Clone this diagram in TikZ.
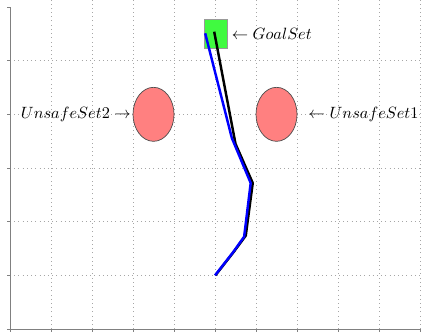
\documentclass[tikz,border=0pt]{standalone}
\usepackage{amsmath}
\usepackage{amssymb}
\usetikzlibrary{shapes.geometric}
\definecolor{goalgreen}{RGB}{64,250,64}
\definecolor{unsafered}{RGB}{255,128,128}

\begin{document}
\begin{tikzpicture}[x=0.82cm, y=1.0734cm, >=stealth,
    unsafe/.style={ellipse, draw=black!70, fill=unsafered, minimum width=0.82cm, minimum height=1.08cm, inner sep=0pt},
    goalbox/.style={rectangle, draw=black!40, fill=goalgreen, minimum width=0.46cm, minimum height=0.58cm, inner sep=0pt},
    setlabel/.style={scale=0.93, inner sep=0pt},
    traj/.style={line width=1.4pt, line join=round}]
            \useasboundingbox (-0.244,-0.112) rectangle (10.024,6.13);
            
            % grid and axes
            \foreach \x in {1,...,10}
                \draw[gray!70, dotted] (\x,0) -- (\x,6.13);
            \foreach \y in {1,...,5}
                \draw[gray!70, dotted] (0,\y) -- (10,\y);
            \draw[gray] (0,0) -- (10,0);
            \draw[gray] (0,0) -- (0,6);
            \foreach \x in {0,...,10}
                \draw[gray] (\x,0) -- (\x,-0.06);
            \foreach \y in {0,...,6}
                \draw[gray] (0,\y) -- (-0.08,\y);
            
            \node[goalbox] (goal) at (5.015,5.50) {};
            \node[unsafe] (unsafe2) at (3.5,4) {};
            \node[unsafe] (unsafe1) at (6.5,4) {};
            
            % trajectories
            \draw[traj, black] (5.01,1) -- (5.46,1.44) -- (5.75,1.74) -- (5.92,2.72) -- (5.5,3.45) -- (4.98,5.54);
            \draw[traj, blue] (5,1) -- (5.44,1.43) -- (5.71,1.72) -- (5.87,2.72) -- (5.41,3.56) -- (4.76,5.51);
            
            \node[setlabel, right] (goallabel) at ([xshift=0.08cm]goal.east) {$\leftarrow GoalSet$};
            \node[setlabel, left] (label2) at ([xshift=-0.03cm]unsafe2.west) {$UnsafeSet2\rightarrow$};
            \node[setlabel, right] (label1) at ([xshift=0.22cm]unsafe1.east) {$\leftarrow UnsafeSet1$};
        \end{tikzpicture}
\end{document}
